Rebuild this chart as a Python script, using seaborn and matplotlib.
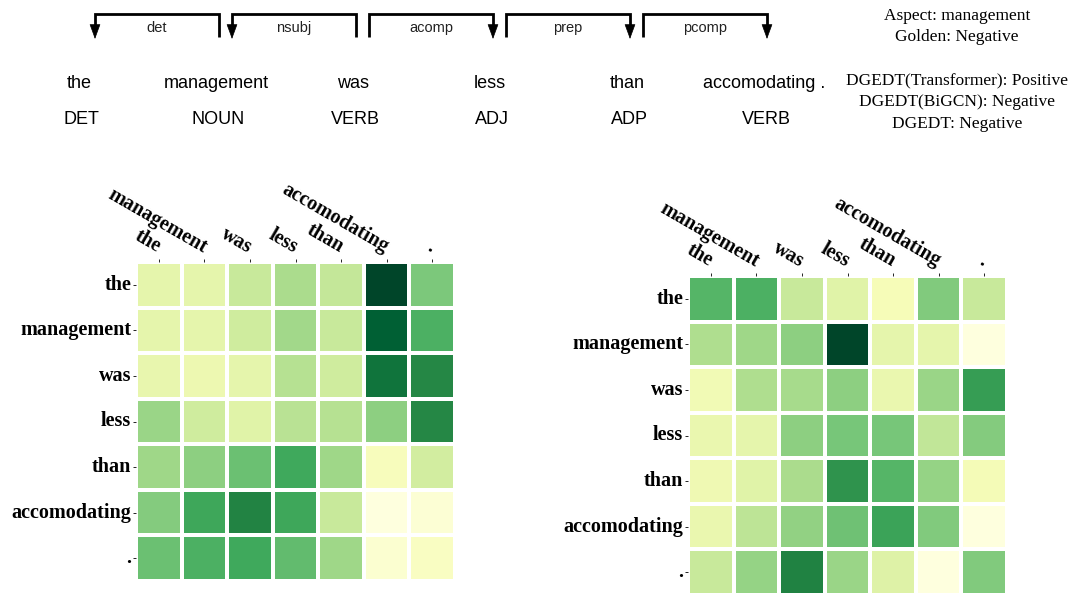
import numpy as np
import matplotlib
matplotlib.use("Agg")
import matplotlib.pyplot as plt
import matplotlib.transforms as mtransforms
import seaborn as sns

# =========================
# Data
# =========================
words = ["the", "management", "was", "less", "than", "accomodating", "."]
sent_words = ["the", "management", "was", "less", "than", "accomodating ."]
pos_tags = ["DET", "NOUN", "VERB", "ADJ", "ADP", "VERB"]
dep_labels = ["det", "nsubj", "acomp", "prep", "pcomp"]
# True: arrow points to left word, False: arrow points to right word
dep_arrow_left = [True, True, False, False, False]

info_top = ["Aspect: management", "Golden: Negative"]
info_bottom = ["DGEDT(Transformer): Positive", "DGEDT(BiGCN): Negative", "DGEDT: Negative"]

attn_left = np.array([
    [0.20, 0.20, 0.30, 0.38, 0.31, 1.00, 0.49],
    [0.20, 0.20, 0.28, 0.40, 0.30, 0.90, 0.60],
    [0.19, 0.17, 0.20, 0.35, 0.28, 0.82, 0.74],
    [0.42, 0.28, 0.22, 0.34, 0.35, 0.45, 0.74],
    [0.41, 0.45, 0.53, 0.63, 0.41, 0.12, 0.27],
    [0.47, 0.64, 0.75, 0.64, 0.30, 0.02, 0.05],
    [0.53, 0.60, 0.63, 0.55, 0.41, 0.06, 0.10],
])

attn_right = np.array([
    [0.58, 0.60, 0.30, 0.22, 0.13, 0.48, 0.30],
    [0.37, 0.41, 0.45, 1.00, 0.20, 0.20, 0.02],
    [0.15, 0.37, 0.39, 0.45, 0.18, 0.42, 0.67],
    [0.18, 0.20, 0.45, 0.50, 0.50, 0.32, 0.47],
    [0.16, 0.22, 0.38, 0.70, 0.58, 0.43, 0.14],
    [0.18, 0.33, 0.44, 0.52, 0.65, 0.48, 0.02],
    [0.30, 0.43, 0.76, 0.42, 0.23, 0.02, 0.48],
])

# =========================
# Figure
# =========================
W, H = 1077, 594
fig = plt.figure(figsize=(W / 100, H / 100), dpi=100)

# overlay axes in pixel coordinates for the dependency diagram
ax0 = fig.add_axes([0, 0, 1, 1])
ax0.set_xlim(0, W)
ax0.set_ylim(H, 0)
ax0.axis("off")

sans = "Liberation Sans"
serif = "Liberation Serif"

x0, step = 79, 137
for i, (w, p) in enumerate(zip(sent_words, pos_tags)):
    cx = x0 + i * step
    ax0.text(cx, 83, w, ha="center", va="center", fontsize=13, family=sans)
    ax0.text(cx + 2, 120, p, ha="center", va="center", fontsize=13, family=sans)

y_top, y_end = 14, 38
for i, (lab, left) in enumerate(zip(dep_labels, dep_arrow_left)):
    xl = x0 + i * step + 16
    xr = x0 + (i + 1) * step + 3
    xa = xl if left else xr
    y_l = y_end - 8 if left else y_end - 1
    y_r = y_end - 1 if left else y_end - 8
    ax0.plot([xl, xl, xr, xr], [y_l, y_top, y_top, y_r], color="k",
             lw=2, solid_joinstyle="miter", solid_capstyle="butt")
    ax0.annotate("", xy=(xa, y_end + 1), xytext=(xa, y_end - 9),
                 arrowprops=dict(arrowstyle="-|>,head_length=0.6,head_width=0.22",
                                 color="k", lw=0.5,
                                 mutation_scale=16, shrinkA=0, shrinkB=0))
    ax0.text((xl + xr) / 2, 28, lab, ha="center", va="center", fontsize=10.5,
             family=sans, color="#222222")

for j, t in enumerate(info_top):
    ax0.text(957, 16 + j * 21, t, ha="center", va="center", fontsize=12.5, family=serif)
for j, t in enumerate(info_bottom):
    ax0.text(957, 81 + j * 21.5, t, ha="center", va="center", fontsize=12.5, family=serif)

shift = mtransforms.ScaledTranslation(6 / 100, 0, fig.dpi_scale_trans)


def draw_heatmap(ax, data):
    sns.heatmap(data, cmap="YlGn", vmin=0, vmax=1, cbar=False,
                linewidths=1.5, linecolor="white",
                xticklabels=words, yticklabels=words, ax=ax)
    ax.xaxis.tick_top()
    ax.tick_params(axis="both", length=2, width=0.6, pad=1.5)
    for lbl in ax.get_xticklabels():
        lbl.set_rotation(-30)
        lbl.set_ha("right")
        lbl.set_va("bottom")
        lbl.set_fontsize(14.5)
        lbl.set_fontweight("bold")
        lbl.set_family(serif)
        lbl.set_transform(lbl.get_transform() + shift)
    for lbl in ax.get_yticklabels():
        lbl.set_rotation(0)
        lbl.set_fontsize(14.5)
        lbl.set_fontweight("bold")
        lbl.set_family(serif)


ax1 = fig.add_axes([136 / W, 1 - 581 / H, 319 / W, 319 / H])
draw_heatmap(ax1, attn_left)

ax2 = fig.add_axes([688 / W, 1 - 595 / H, 319 / W, 319 / H])
draw_heatmap(ax2, attn_right)

fig.savefig("out.png", dpi=100)
